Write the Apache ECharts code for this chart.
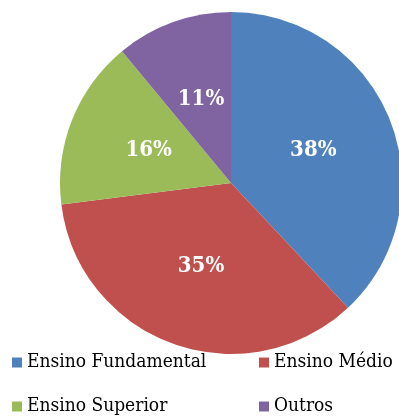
<!DOCTYPE html>
<html><head><meta charset="utf-8">
<script src="https://cdn.jsdelivr.net/npm/echarts@6/dist/echarts.min.js"></script>
<style>html,body{margin:0;padding:0;background:#fff}#c{width:399px;height:416px}</style>
</head><body><div id="c"></div>
<script>
const categories = ['Ensino Fundamental', 'Ensino Médio', 'Ensino Superior', 'Outros'];
const values = [38, 35, 16, 11];
const colors = ['#4F81BD', '#C0504D', '#9BBB59', '#8064A2'];

const chart = echarts.init(document.getElementById('c'), null, {renderer: 'canvas'});
const FONT = '"DejaVu Serif Condensed", "DejaVu Serif", serif';
const legendText = {fontFamily: FONT, fontSize: 19, color: '#000'};
chart.setOption({
  animation: false,
  color: colors,
  legend: [
    {data: [categories[0], categories[2]], orient: 'vertical', left: 12, top: 353, itemGap: 25,
     itemWidth: 10, itemHeight: 10, icon: 'rect', textStyle: legendText, padding: 0},
    {data: [categories[1], categories[3]], orient: 'vertical', left: 259, top: 353, itemGap: 25,
     itemWidth: 10, itemHeight: 10, icon: 'rect', textStyle: legendText, padding: 0}
  ],
  series: [{
    type: 'pie',
    center: [231, 183],
    radius: 171,
    startAngle: 90,
    clockwise: true,
    data: categories.map((c, i) => ({name: c, value: values[i]})),
    label: {
      show: true, position: 'inside', formatter: '{c}%',
      color: '#fff', fontFamily: FONT, fontWeight: 'bold', fontSize: 22
    },
    labelLine: {show: false},
    itemStyle: {borderWidth: 0},
    emphasis: {disabled: true}
  }]
});
</script></body></html>
